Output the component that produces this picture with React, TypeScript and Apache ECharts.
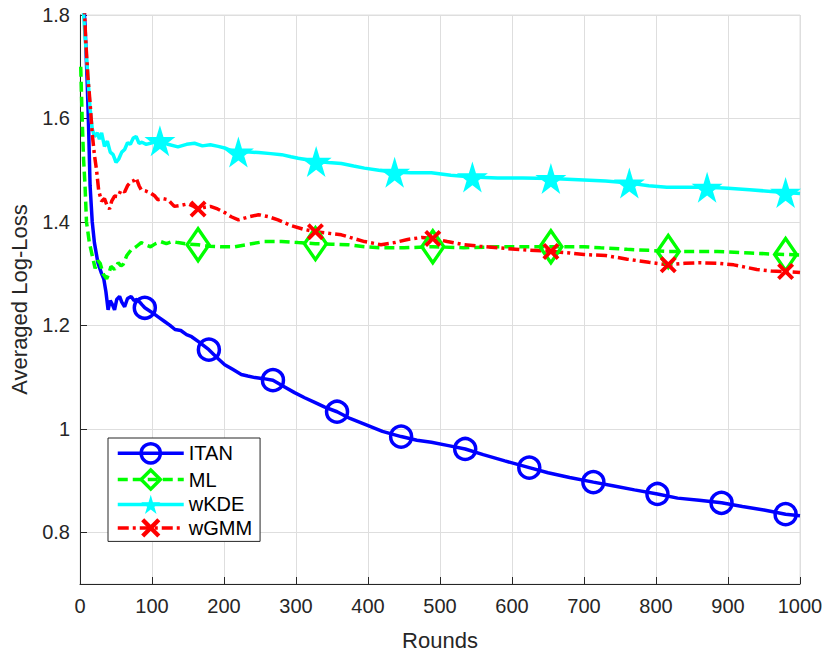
import { useEffect, useRef } from 'react';
import * as echarts from 'echarts';

const seriesNames = ['ITAN', 'ML', 'wKDE', 'wGMM'];

const itanPoints: [number, number][] = [
  [1, 1.95], [4, 1.85], [7, 1.78], [10, 1.67], [12, 1.58], [14, 1.47], [17, 1.4], [20, 1.36], [25, 1.32], [30, 1.3],
  [33, 1.29], [36, 1.265], [39, 1.23], [42, 1.248], [45, 1.24], [48, 1.23], [51, 1.25], [55, 1.256], [58, 1.245], [62, 1.236],
  [66, 1.252], [71, 1.256], [75, 1.248], [79, 1.25], [83, 1.245], [86, 1.24], [90, 1.234], [100, 1.225], [108, 1.217], [118, 1.207],
  [125, 1.2], [132, 1.192], [140, 1.19], [148, 1.182], [155, 1.178], [165, 1.168], [179, 1.153], [190, 1.138], [201, 1.124], [212, 1.115],
  [224, 1.105], [233, 1.102], [243, 1.099], [255, 1.097], [268, 1.094], [283, 1.082], [298, 1.07], [312, 1.06], [326, 1.051], [340, 1.042],
  [357, 1.033], [375, 1.02], [395, 1.009], [420, 0.995], [446, 0.985], [468, 0.978], [488, 0.974], [510, 0.968], [535, 0.961], [560, 0.95],
  [590, 0.938], [624, 0.925], [650, 0.915], [680, 0.906], [713, 0.897], [740, 0.89], [770, 0.882], [802, 0.874], [830, 0.866], [860, 0.862],
  [891, 0.857], [920, 0.85], [950, 0.843], [980, 0.835], [1000, 0.832],
];
const itanMarkers = [90, 179, 268, 357, 446, 535, 624, 713, 802, 891, 980];

const mlPoints: [number, number][] = [
  [1, 1.7], [3, 1.6], [5, 1.52], [7, 1.47], [9, 1.4], [13, 1.36], [17, 1.335], [21, 1.31], [25, 1.325], [28, 1.32],
  [32, 1.3], [37, 1.29], [40, 1.3], [43, 1.314], [48, 1.308], [53, 1.321], [57, 1.315], [60, 1.318], [65, 1.335], [71, 1.346],
  [78, 1.352], [85, 1.36], [92, 1.355], [98, 1.352], [105, 1.358], [112, 1.362], [120, 1.358], [128, 1.362], [136, 1.36], [150, 1.357],
  [164, 1.356], [180, 1.353], [195, 1.352], [215, 1.352], [235, 1.357], [256, 1.362], [280, 1.362], [303, 1.36], [327, 1.358], [350, 1.357],
  [372, 1.356], [395, 1.352], [418, 1.35], [450, 1.35], [490, 1.352], [533, 1.35], [580, 1.352], [626, 1.352], [654, 1.352], [700, 1.352],
  [723, 1.35], [760, 1.347], [790, 1.345], [817, 1.343], [850, 1.343], [885, 1.343], [931, 1.34], [960, 1.338], [980, 1.337], [1000, 1.336],
];
const mlMarkers = [164, 327, 490, 654, 817, 980];

const wkdePoints: [number, number][] = [
  [1, 1.9], [5, 1.8], [10, 1.7], [14, 1.62], [17, 1.58], [20, 1.565], [24, 1.572], [27, 1.56], [30, 1.572], [34, 1.546],
  [38, 1.556], [42, 1.535], [46, 1.53], [50, 1.515], [54, 1.522], [58, 1.535], [62, 1.54], [66, 1.553], [70, 1.55], [74, 1.562],
  [78, 1.565], [82, 1.552], [86, 1.554], [92, 1.55], [100, 1.553], [111, 1.557], [122, 1.55], [136, 1.545], [148, 1.55], [159, 1.552],
  [170, 1.547], [181, 1.549], [192, 1.546], [201, 1.543], [210, 1.538], [220, 1.535], [235, 1.535], [248, 1.534], [265, 1.532], [280, 1.53],
  [293, 1.526], [303, 1.523], [315, 1.52], [328, 1.517], [345, 1.515], [363, 1.513], [380, 1.508], [395, 1.504], [415, 1.5], [437, 1.496],
  [460, 1.495], [488, 1.495], [515, 1.49], [545, 1.487], [580, 1.485], [615, 1.485], [654, 1.484], [700, 1.481], [730, 1.479], [763, 1.475],
  [790, 1.47], [815, 1.467], [840, 1.467], [871, 1.467], [900, 1.465], [930, 1.462], [960, 1.459], [980, 1.457], [1000, 1.455],
];
const wkdeMarkers = [111, 220, 328, 437, 545, 654, 763, 871, 980];

const wgmmPoints: [number, number][] = [
  [1, 1.95], [5, 1.85], [8, 1.75], [11, 1.68], [14, 1.63], [17, 1.57], [20, 1.53], [23, 1.5], [26, 1.46], [30, 1.44],
  [34, 1.445], [38, 1.43], [41, 1.425], [44, 1.44], [48, 1.45], [53, 1.449], [57, 1.462], [62, 1.458], [66, 1.47], [71, 1.478],
  [75, 1.48], [78, 1.485], [82, 1.47], [85, 1.462], [91, 1.46], [98, 1.456], [104, 1.45], [108, 1.443], [115, 1.445], [122, 1.443],
  [131, 1.43], [140, 1.432], [150, 1.435], [158, 1.43], [164, 1.425], [172, 1.428], [181, 1.43], [191, 1.425], [201, 1.418], [210, 1.41],
  [220, 1.404], [235, 1.41], [248, 1.414], [262, 1.41], [275, 1.404], [293, 1.393], [310, 1.386], [327, 1.381], [345, 1.378], [363, 1.375],
  [380, 1.368], [395, 1.362], [418, 1.356], [437, 1.36], [455, 1.366], [475, 1.37], [490, 1.368], [510, 1.362], [533, 1.356], [555, 1.353],
  [580, 1.35], [616, 1.346], [654, 1.343], [680, 1.34], [700, 1.337], [730, 1.335], [760, 1.328], [790, 1.322], [817, 1.317], [840, 1.32],
  [862, 1.321], [885, 1.32], [908, 1.317], [940, 1.308], [960, 1.305], [980, 1.304], [1000, 1.302],
];
const wgmmMarkers = [164, 327, 490, 654, 817, 980];

const yTickValues = [0.8, 1.0, 1.2, 1.4, 1.6, 1.8];

const FONT = "'Liberation Sans', Arial, Helvetica, sans-serif";
const AXIS_COLOR = '#262626';
const GRID_COLOR = '#dedede';
const LINE_W = 3.5;

const STAR = 'path://M50,0 L61,35 L98,35 L68,57 L79,91 L50,70 L21,91 L32,57 L2,35 L39,35 Z';
const CROSS = 'path://M0,1.6 L1.6,0 L5,3.4 L8.4,0 L10,1.6 L6.6,5 L10,8.4 L8.4,10 L5,6.6 L1.6,10 L0,8.4 L3.4,5 Z';

function build(points: [number, number][], markers: number[]) {
  return points.map(([x, y]) =>
    markers.includes(x) ? { value: [x, y] } : { value: [x, y], symbol: 'none' }
  );
}

const styles = [
  {
    color: '#0000ff', dash: 'solid' as any, symbol: 'circle', size: 21 as any,
    item: { color: 'rgba(0,0,0,0)', borderColor: '#0000ff', borderWidth: 3.5 },
  },
  {
    color: '#00ff00', dash: [10, 5] as any, symbol: 'diamond', size: [22, 32] as any,
    item: { color: 'rgba(0,0,0,0)', borderColor: '#00ff00', borderWidth: 3.5 },
  },
  {
    color: '#00ffff', dash: 'solid' as any, symbol: STAR, size: 31 as any,
    item: { color: '#00ffff', borderColor: '#00ffff', borderWidth: 0 },
  },
  {
    color: '#ff0000', dash: [11, 4, 3, 4] as any, symbol: CROSS, size: 17 as any,
    item: { color: '#ff0000', borderColor: '#ff0000', borderWidth: 0 },
  },
];

const allPoints = [itanPoints, mlPoints, wkdePoints, wgmmPoints];
const allMarkers = [itanMarkers, mlMarkers, wkdeMarkers, wgmmMarkers];

export default function App() {
  const ref = useRef<HTMLDivElement>(null);
  useEffect(() => {
    const chart = echarts.init(ref.current as HTMLDivElement, null, { renderer: 'svg' });
    const series = seriesNames.map((name, i) => ({
      name,
      type: 'line',
      data: build(allPoints[i], allMarkers[i]),
      symbol: styles[i].symbol,
      symbolSize: styles[i].size,
      showSymbol: true,
      showAllSymbol: true,
      clip: true,
      lineStyle: { color: styles[i].color, width: LINE_W, type: styles[i].dash },
      itemStyle: styles[i].item,
      emphasis: { disabled: true },
    }));
    chart.setOption({
      animation: false,
      backgroundColor: '#ffffff',
      textStyle: { fontFamily: FONT },
      grid: {
        left: 78, right: 31, top: 15, bottom: 72,
        show: true, borderColor: GRID_COLOR, borderWidth: 1, backgroundColor: '#ffffff',
      },
      xAxis: {
        type: 'value', min: 0, max: 1000, interval: 100,
        name: 'Rounds', nameLocation: 'middle', nameGap: 45,
        nameTextStyle: { fontSize: 22, color: AXIS_COLOR, fontFamily: FONT },
        axisLine: { show: true, onZero: false, lineStyle: { color: AXIS_COLOR, width: 1 } },
        axisTick: { show: true, inside: true, length: 7, lineStyle: { color: AXIS_COLOR } },
        axisLabel: {
          fontSize: 20, color: AXIS_COLOR, margin: 12, fontFamily: FONT,
          formatter: (v: number) => String(v),
        },
        splitLine: { show: true, lineStyle: { color: GRID_COLOR, width: 1 } },
      },
      yAxis: {
        type: 'value', min: 0.7, max: 1.8,
        name: 'Averaged Log-Loss', nameLocation: 'middle', nameGap: 50,
        nameTextStyle: { fontSize: 22, color: AXIS_COLOR, fontFamily: FONT },
        axisLine: { show: true, onZero: false, lineStyle: { color: AXIS_COLOR, width: 1 } },
        axisTick: { show: true, inside: true, length: 7, customValues: yTickValues, lineStyle: { color: AXIS_COLOR } },
        axisLabel: {
          customValues: yTickValues, fontSize: 20, color: AXIS_COLOR, margin: 10, fontFamily: FONT,
          formatter: (v: number) => String(Number(v.toFixed(1))),
        },
        splitLine: { show: true, lineStyle: { color: GRID_COLOR, width: 1 } },
      },
      legend: {
        orient: 'vertical', left: 108, top: 438,
        itemWidth: 66, itemHeight: 24, itemGap: 3.5,
        padding: [4, 8, 3.5, 8],
        borderColor: AXIS_COLOR, borderWidth: 1, backgroundColor: '#ffffff',
        selectedMode: false, z: 10,
        textStyle: { fontSize: 20, color: '#000000', fontFamily: FONT },
        data: seriesNames.map((name, i) => ({
          name,
          itemStyle: styles[i].item,
          lineStyle: { color: styles[i].color, width: LINE_W, type: styles[i].dash },
        })),
      },
      series,
    } as any);
    return () => chart.dispose();
  }, []);
  return <div ref={ref} style={{ position: 'fixed', left: 0, top: 0, width: 831, height: 656 }} />;
}
